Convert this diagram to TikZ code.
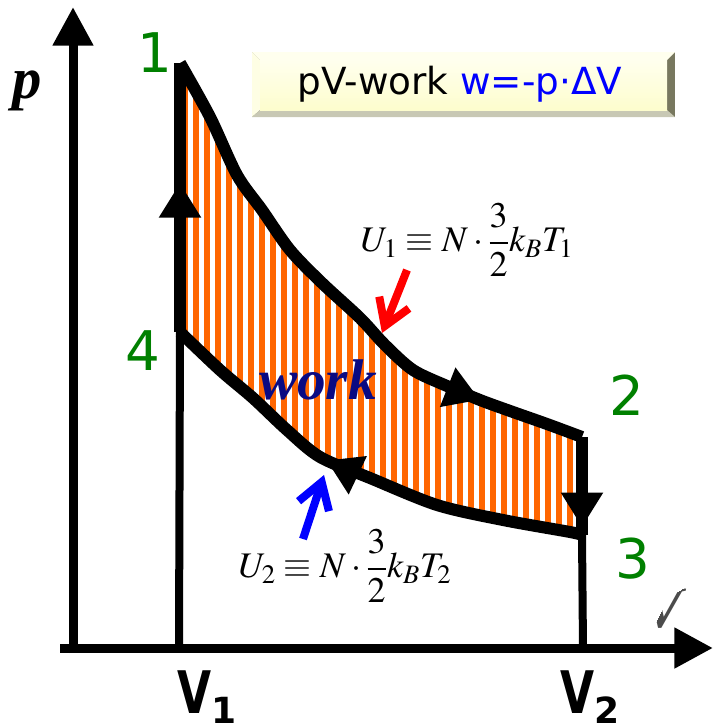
\documentclass[tikz,border=0pt]{standalone}
\usepackage{mathptmx}
\usepackage[no-math]{fontspec}
\usepackage{graphicx}
\setmainfont{DejaVu Sans}
\newfontfamily\timesfont{Liberation Serif}
\usetikzlibrary{arrows.meta,decorations.markings}

\definecolor{stategreen}{RGB}{0,128,0}
\definecolor{hatchorange}{RGB}{255,102,0}
\definecolor{worknavy}{RGB}{10,10,130}
\definecolor{boxface}{RGB}{253,253,205}
\definecolor{boxdark}{RGB}{120,120,95}
\definecolor{boxlight}{RGB}{255,255,238}
\definecolor{boxlow}{RGB}{200,200,180}

\tikzset{
  axis/.style={line width=6.75pt, -{Triangle[length=29pt,width=29pt]}},
  level/.style={line width=6pt},
  stroke/.style={line width=9pt, line join=round},
  midarrow/.style={decoration={markings,
      mark=at position #1 with {\arrow{Triangle[length=26pt,width=30pt]}}},
    postaction=decorate},
  hatch/.style={hatchorange, line width=4.5pt},
  statelbl/.style={text=stategreen, inner sep=0pt, font=\fontsize{41}{41}\selectfont},
  vlbl/.style={inner sep=0pt, anchor=base west, font=\fontsize{44}{44}\selectfont\bfseries},
  formula/.style={inner sep=0pt, font=\fontsize{27}{32}\selectfont},
  pointer/.style={line width=6pt, -{Straight Barb[length=19pt,width=24pt]}},
}

\begin{document}
\begin{tikzpicture}[x=0.75pt, y=-0.75pt]
    \useasboundingbox (0,0) rectangle (713,726);

    % corners of the cycle
    \coordinate (s1) at (180,63);
    \coordinate (s2) at (582,437);
    \coordinate (s3) at (582,535);
    \coordinate (s4) at (180,332);
    \coordinate (v1) at (179,648);
    \coordinate (v2) at (583,648);

    % hatched work area
    \begin{scope}
        \clip plot[smooth] coordinates {(s1) (210,117) (237,175) (262,210) (290,250) (322,283)
            (360,318) (385,345) (413,370) (447,386) (480,400) (513,412) (547,424) (s2)}
            -- plot[smooth] coordinates {(s3) (570,532) (503,520) (437,505) (370,478) (320,457)
            (287,430) (253,398) (220,370) (s4)} -- cycle;
        \foreach \x in {185,196,...,585}
            \draw[hatch] (\x,40) -- (\x,560);
    \end{scope}

    % axes
    \draw[axis] (60,648) -- (713,648);
    \draw[axis] (73,653) -- (73,7);

    % volume marks
    \draw[level] (v1) -- (s4);
    \draw[level] (v2) -- (s3);

    % the cycle 1-2-3-4
    \draw[stroke, midarrow=0.81] plot[smooth] coordinates {(s1) (210,117) (237,175) (262,210)
        (290,250) (322,283) (360,318) (385,345) (413,370) (447,386) (480,400) (513,412)
        (547,424) (s2)};
    \draw[stroke, midarrow=0.92] (s2) -- (s3);
    \draw[stroke, midarrow=0.578] plot[smooth] coordinates {(s3) (570,532) (503,520) (437,505)
        (370,478) (320,457) (287,430) (253,398) (220,370) (s4)};
    \draw[stroke, midarrow=0.554] (s4) -- (s1);

    % legend box
    \fill[boxdark] (252,52) rectangle (675,117);
    \fill[boxlight] (252,52) -- (675,52) -- (667,60) -- (260,60) -- cycle;
    \fill[boxlight!70!boxface] (252,52) -- (260,60) -- (260,110) -- (252,117) -- cycle;
    \fill[boxlow] (252,117) -- (260,110) -- (667,110) -- (675,117) -- cycle;
    \shade[top color=boxlight, bottom color=boxface] (260,60) rectangle (667,110);
    \node[inner sep=0pt, font=\fontsize{28}{30}\selectfont] (legend) at (460,84)
        {pV-work \textcolor{blue}{w=-p·ΔV}};

    % labels
    \node[inner sep=0pt, anchor=base, font=\fontsize{44}{44}\selectfont\timesfont\bfseries\itshape]
        (plbl) at (27,98) {p};
    \begin{scope}
        \clip (652,630) -- (668,598) -- (700,578) -- (713,578) -- (713,630) -- cycle;
        \node[inner sep=0pt, anchor=base west, text=black!70,
            font=\fontsize{44}{44}\selectfont\timesfont\bfseries\itshape] (vlbl) at (643,627) {V};
    \end{scope}
    \node[statelbl] (n1) at (155,53) {1};
    \node[statelbl] (n2) at (627,395) {2};
    \node[statelbl] (n3) at (633,559) {3};
    \node[statelbl] (n4) at (143,351) {4};
    \node[vlbl] (V1) at (177,713)
        {\scalebox{0.75}[1]{V}\raisebox{-8pt}{\fontsize{27}{27}\selectfont 1}};
    \node[vlbl] (V2) at (560,713)
        {\scalebox{0.75}[1]{V}\raisebox{-8pt}{\fontsize{27}{27}\selectfont 2}};
    \node[inner sep=0pt, anchor=base, text=worknavy,
        font=\fontsize{43}{43}\selectfont\timesfont\bfseries\itshape] (work) at (318,399) {work};
    \node[formula] (U1) at (467,240) {$\displaystyle U_1\equiv N\cdot\frac{3}{2}k_BT_1$};
    \node[formula] (U2) at (345,566) {$\displaystyle U_2\equiv N\cdot\frac{3}{2}k_BT_2$};

    % pointers
    \coordinate (r0) at (407,270);
    \coordinate (r1) at (382,333);
    \coordinate (b0) at (303,539);
    \coordinate (b1) at (324,475);
    \draw[pointer, red] (r0) -- (r1);
    \draw[pointer, blue] (b0) -- (b1);
\end{tikzpicture}
\end{document}
